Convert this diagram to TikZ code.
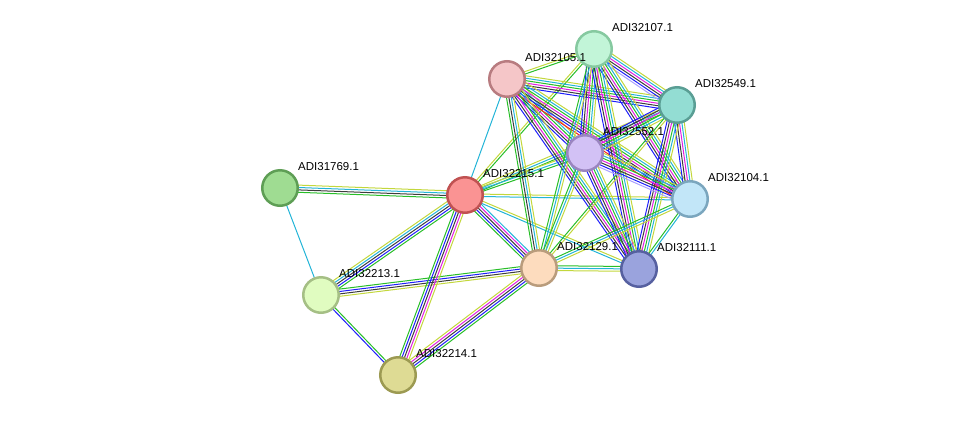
\documentclass[tikz,border=0pt]{standalone}
\usepackage{fontspec}
\newfontfamily\labfont{Liberation Sans}
\usetikzlibrary{calc}
\pgfdeclarelayer{bg}
\pgfsetlayers{bg,main}
\definecolor{eG}{RGB}{40,190,40}
\definecolor{eB}{RGB}{30,30,250}
\definecolor{eK}{RGB}{60,60,60}
\definecolor{eM}{RGB}{225,30,225}
\definecolor{eC}{RGB}{35,180,215}
\definecolor{eY}{RGB}{195,215,60}
\definecolor{eR}{RGB}{250,30,30}
\definecolor{eL}{RGB}{170,160,255}
\newcommand\stredge[3]{%
  \foreach \c [count=\i] in {#3} {\xdef\ecount{\i}}%
  \foreach \c [count=\i] in {#3} {%
    \pgfmathsetmacro\off{(\i-(\ecount+1)/2)*2.4}%
    \draw[draw=\c, line width=1pt] ($(#1.center)!\off pt!90:(#2.center)$) -- ($(#2.center)!\off pt!-90:(#1.center)$);
  }%
}
\tikzset{
  protein/.style={circle, draw, line width=2.5pt, minimum size=35.5pt, inner sep=0pt},
  lbl/.style={font=\labfont\fontsize{11.5}{12}\selectfont, anchor=base west, inner sep=0pt, text=black}
}
\begin{document}
\begin{tikzpicture}[x=1pt,y=-1pt]
\useasboundingbox (0,0) rectangle (975,421);
\node[protein, fill={rgb,255:red,194;green,245;blue,216}, draw={rgb,255:red,134;green,201;blue,160}] (n32107) at (594,49) {};
\node[protein, fill={rgb,255:red,245;green,198;blue,200}, draw={rgb,255:red,184;green,124;blue,128}] (n32105) at (507,79) {};
\node[protein, fill={rgb,255:red,147;green,221;blue,211}, draw={rgb,255:red,90;green,158;blue,148}] (n32549) at (677,105) {};
\node[protein, fill={rgb,255:red,210;green,193;blue,245}, draw={rgb,255:red,154;green,133;blue,192}] (n32552) at (585,153) {};
\node[protein, fill={rgb,255:red,159;green,220;blue,146}, draw={rgb,255:red,94;green,158;blue,85}] (n31769) at (280,188) {};
\node[protein, fill={rgb,255:red,250;green,147;blue,147}, draw={rgb,255:red,192;green,82;blue,82}] (n32215) at (465,195) {};
\node[protein, fill={rgb,255:red,194;green,230;blue,248}, draw={rgb,255:red,123;green,166;blue,190}] (n32104) at (690,199) {};
\node[protein, fill={rgb,255:red,253;green,220;blue,190}, draw={rgb,255:red,185;green,156;blue,124}] (n32129) at (539,268) {};
\node[protein, fill={rgb,255:red,154;green,163;blue,221}, draw={rgb,255:red,86;green,96;blue,160}] (n32111) at (639,269) {};
\node[protein, fill={rgb,255:red,224;green,252;blue,192}, draw={rgb,255:red,165;green,191;blue,133}] (n32213) at (321,295) {};
\node[protein, fill={rgb,255:red,222;green,219;blue,148}, draw={rgb,255:red,156;green,154;blue,82}] (n32214) at (398,375) {};
\node[lbl] (l32107) at ($(n32107.center)+(18,-18)$) {ADI32107.1};
\node[lbl] (l32105) at ($(n32105.center)+(18,-18)$) {ADI32105.1};
\node[lbl] (l32549) at ($(n32549.center)+(18,-18)$) {ADI32549.1};
\node[lbl] (l32552) at ($(n32552.center)+(18,-18)$) {ADI32552.1};
\node[lbl] (l31769) at ($(n31769.center)+(18,-18)$) {ADI31769.1};
\node[lbl] (l32215) at ($(n32215.center)+(18,-18)$) {ADI32215.1};
\node[lbl] (l32104) at ($(n32104.center)+(18,-18)$) {ADI32104.1};
\node[lbl] (l32129) at ($(n32129.center)+(18,-18)$) {ADI32129.1};
\node[lbl] (l32111) at ($(n32111.center)+(18,-18)$) {ADI32111.1};
\node[lbl] (l32213) at ($(n32213.center)+(18,-18)$) {ADI32213.1};
\node[lbl] (l32214) at ($(n32214.center)+(18,-18)$) {ADI32214.1};
\begin{pgfonlayer}{bg}
\stredge{n31769}{n32215}{eG,eK,eC,eY}
\stredge{n31769}{n32213}{eC}
\stredge{n32213}{n32215}{eG,eB,eK,eC,eY}
\stredge{n32213}{n32129}{eY,eK,eB,eG}
\stredge{n32213}{n32214}{eB,eG}
\stredge{n32215}{n32214}{eG,eB,eK,eM,eY}
\stredge{n32129}{n32214}{eY,eM,eK,eB,eG}
\stredge{n32215}{n32105}{eC}
\stredge{n32215}{n32129}{eG,eB,eK,eM,eC}
\stredge{n32215}{n32107}{eG,eY}
\stredge{n32215}{n32549}{eG,eC,eY}
\stredge{n32215}{n32552}{eG,eC,eY}
\stredge{n32215}{n32104}{eC,eY}
\stredge{n32215}{n32111}{eC,eY}
\stredge{n32105}{n32107}{eG,eY}
\stredge{n32105}{n32549}{eB,eK,eM,eG,eC,eY}
\stredge{n32105}{n32552}{eB,eK,eM,eG,eC,eY}
\stredge{n32105}{n32104}{eR,eB,eK,eM,eG,eC,eY}
\stredge{n32105}{n32111}{eB,eK,eM,eG,eC,eY}
\stredge{n32105}{n32129}{eG,eK,eC,eY}
\stredge{n32107}{n32549}{eL,eB,eK,eM,eC,eY}
\stredge{n32107}{n32552}{eB,eK,eM,eG,eC,eY}
\stredge{n32107}{n32104}{eB,eK,eM,eG,eC,eY}
\stredge{n32107}{n32111}{eB,eK,eM,eG,eC,eY}
\stredge{n32107}{n32129}{eG,eC,eY}
\stredge{n32549}{n32552}{eB,eK,eM,eG,eC,eY}
\stredge{n32549}{n32104}{eB,eK,eM,eC,eY}
\stredge{n32549}{n32111}{eB,eK,eM,eG,eC,eY}
\stredge{n32549}{n32129}{eG,eY}
\stredge{n32552}{n32104}{eL,eB,eK,eM,eG,eC,eY}
\stredge{n32552}{n32111}{eB,eK,eM,eG,eC,eY}
\stredge{n32552}{n32129}{eG,eC,eY}
\stredge{n32104}{n32111}{eG,eC}
\stredge{n32104}{n32129}{eG,eC,eY}
\stredge{n32111}{n32129}{eG,eC,eY}
\end{pgfonlayer}
\end{tikzpicture}
\end{document}
